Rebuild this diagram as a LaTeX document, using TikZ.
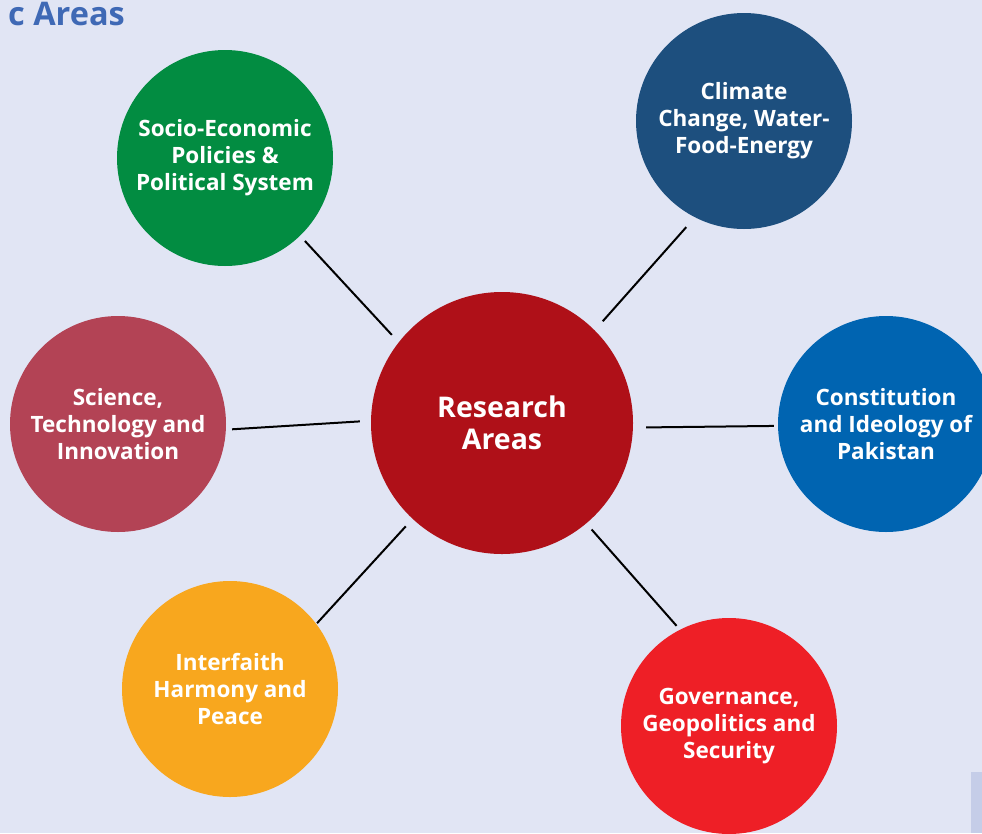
\documentclass[tikz,border=0pt]{standalone}
\usepackage{fontspec}
\setmainfont{Open Sans}
\definecolor{bg}{HTML}{E1E5F4}
\definecolor{titleblue}{HTML}{3F69B5}
\definecolor{cgreen}{HTML}{028C41}
\definecolor{cnavy}{HTML}{1D4F7E}
\definecolor{cblue}{HTML}{0064B1}
\definecolor{crose}{HTML}{B34355}
\definecolor{corange}{HTML}{F8A71E}
\definecolor{cred}{HTML}{EE1F26}
\definecolor{ccenter}{HTML}{AF1018}
\definecolor{cbar}{HTML}{C5CDE8}
\tikzset{
  area/.style={circle, minimum size=216pt, inner sep=0pt, text=white, align=center,
    font=\bfseries\fontsize{22.5}{27}\selectfont},
  hub/.style={circle, minimum size=262pt, inner sep=0pt, text=white, align=center,
    fill=ccenter, font=\bfseries\fontsize{28.5}{32}\selectfont},
  link/.style={draw=black, line width=2pt}
}
\begin{document}
\begin{tikzpicture}[x=1pt,y=-1pt]
\useasboundingbox (0,0) rectangle (982,833);
\clip (0,0) rectangle (982,833);
\fill[bg] (0,0) rectangle (982,833);
\fill[cbar] (971,772) rectangle (982,833);
\node[anchor=base east, inner sep=0pt, text=titleblue, font=\bfseries\fontsize{32.5}{38}\selectfont] (title) at (125,25) {c Areas};

\node[hub] (hub) at (502,423) {Research\\Areas};
\node[area, fill=cgreen] (soc) at (225,158) {Socio-Economic\\Policies \&\\Political System};
\node[area, fill=cnavy] (cli) at (744,121) {Climate\\Change, Water-\\Food-Energy};
\node[area, fill=cblue] (con) at (886,424) {Constitution\\and Ideology of\\Pakistan};
\node[area, fill=crose] (sci) at (118,424) {Science,\\Technology and\\Innovation};
\node[area, fill=corange] (int) at (230,689) {Interfaith\\Harmony and\\Peace};
\node[area, fill=cred] (gov) at (729,726) {Governance,\\Geopolitics and\\Security};

\draw[link, shorten <=10pt, shorten >=7pt] (hub.142.5) -- (soc.-46.8);
\draw[link, shorten <=12pt, shorten >=13pt] (hub.45.6) -- (cli.-117.6);
\draw[link, shorten <=13pt, shorten >=4pt] (hub.-2.4) -- (con.181);
\draw[link, shorten <=11pt, shorten >=6pt] (hub.179.2) -- (sci.-3);
\draw[link, shorten <=10pt, shorten >=1pt] (hub.-133.9) -- (int.37.9);
\draw[link, shorten <=8pt, shorten >=5pt] (hub.-50.8) -- (gov.117.9);
\end{tikzpicture}
\end{document}
